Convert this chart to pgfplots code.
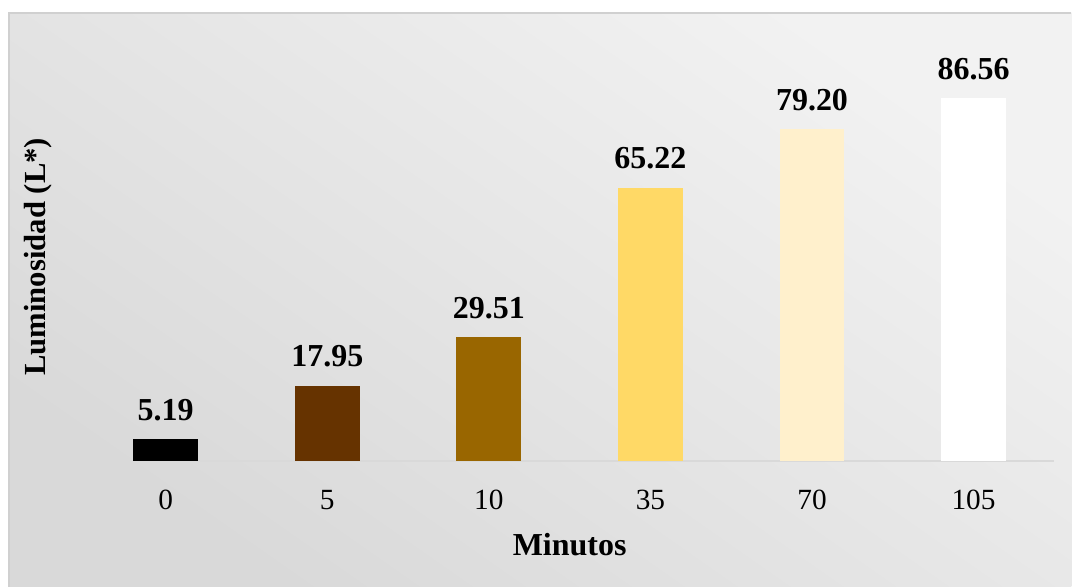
\documentclass[border=0pt]{standalone}
\usepackage{pgfplots}
\pgfplotsset{compat=1.18}
\usepackage{fontspec}
\setmainfont{Liberation Serif}

\definecolor{barA}{HTML}{000000}
\definecolor{barB}{HTML}{663300}
\definecolor{barC}{HTML}{996600}
\definecolor{barD}{HTML}{FFD966}
\definecolor{barE}{HTML}{FFF0CC}
\definecolor{barF}{HTML}{FFFFFF}
\definecolor{frame}{HTML}{D0D0D0}
\definecolor{baseline}{HTML}{D9D9D9}

\begin{document}
\begin{tikzpicture}
  % page and chart area background
  \fill[white] (0,0) rectangle (804pt,440.25pt);
  \shade[shading=axis, top color=black!5, bottom color=black!15, shading angle=-35]
    (6.75pt,0) rectangle (804pt,430.5pt);
  \draw[frame, line width=1pt] (6.75pt,0) -- (6.75pt,430.5pt) -- (804pt,430.5pt);

  \begin{axis}[
    at={(63.75pt,94.5pt)}, anchor=south west,
    scale only axis, width=727.5pt, height=314.25pt,
    xmin=-0.5, xmax=5.5, ymin=0, ymax=100,
    axis x line=bottom, axis y line=left,
    axis line style={-, draw=baseline, line width=1.2pt},
    y axis line style={draw=none},
    xtick={0,1,2,3,4,5},
    xticklabels={0,5,10,35,70,105},
    major tick length=0pt,
    ytick=\empty,
    xticklabel style={font=\fontsize{22}{26}\selectfont, anchor=center, yshift=-29.25pt},
    ybar, bar width=48.75pt, bar shift=0pt,
    nodes near coords,
    nodes near coords style={font=\fontsize{24}{28}\selectfont\bfseries, anchor=center, yshift=21.75pt,
      /pgf/number format/.cd, fixed, fixed zerofill, precision=2, assume math mode=true},
    xlabel={Minutos},
    xlabel style={font=\fontsize{24}{28}\selectfont\bfseries, at={(axis description cs:0.5,-0.2)}, anchor=center},
    ylabel={Luminosidad (L*)},
    ylabel style={font=\fontsize{23}{27}\selectfont\bfseries, at={(axis description cs:-0.0485,0.487)}, anchor=center},
    clip=false,
  ]
    \addplot[draw=none, fill=barA] coordinates {(0,5.19)};
    \addplot[draw=none, fill=barB] coordinates {(1,17.95)};
    \addplot[draw=none, fill=barC] coordinates {(2,29.51)};
    \addplot[draw=none, fill=barD] coordinates {(3,65.22)};
    \addplot[draw=none, fill=barE] coordinates {(4,79.20)};
    \addplot[draw=none, fill=barF] coordinates {(5,86.56)};
  \end{axis}
\end{tikzpicture}
\end{document}
